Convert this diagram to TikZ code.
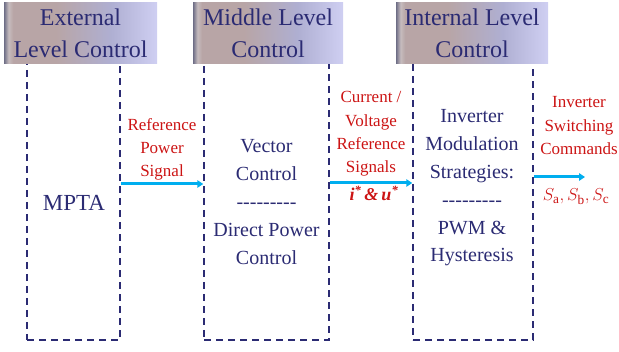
\documentclass[tikz,border=0pt]{standalone}
\usepackage{fontspec}
\IfFontExistsTF{LiberationSerif-Regular.ttf}{%
  \setmainfont{LiberationSerif}[Extension=.ttf,UprightFont=*-Regular,BoldFont=*-Bold,
    ItalicFont=*-Italic,BoldItalicFont=*-BoldItalic]}{%
  \setmainfont{Liberation Serif}}
\usepackage{xcolor}
\definecolor{NavyTxt}{HTML}{2B2B73}
\definecolor{SigRed}{HTML}{CC1414}
\definecolor{SigCyan}{HTML}{00AEEF}
\definecolor{HdrDark}{HTML}{6E6E86}
\definecolor{HdrGray}{HTML}{C6BCBE}
\definecolor{HdrTan}{HTML}{B8A5A6}
\definecolor{HdrLav}{HTML}{AFAFD2}
\definecolor{HdrLight}{HTML}{CFCFF2}
\usetikzlibrary{positioning,calc,arrows.meta}
\pgfdeclarehorizontalshading{hdrshade}{100bp}{color(0bp)=(HdrDark);color(25bp)=(HdrDark);color(26.5bp)=(HdrGray);color(28bp)=(HdrTan);color(42bp)=(HdrTan);color(60bp)=(HdrLav);color(75bp)=(HdrLight);color(100bp)=(HdrLight)}
\newcommand{\dashrow}{-{}-{}-{}-{}-{}-{}-{}-{}-}

\begin{document}
\begin{tikzpicture}[x=1pt,y=-1pt,
  hdr/.style={shading=hdrshade,minimum height=61,inner sep=0pt,align=center,
    text=NavyTxt,font=\fontsize{24}{32}\selectfont},
  lvlbox/.style={draw=NavyTxt,line width=1.5pt,dash pattern=on 7pt off 5pt,minimum height=300},
  bodytxt/.style={text=NavyTxt,inner sep=0pt,align=center,font=\fontsize{20}{27.8}\selectfont},
  sigtxt/.style={text=SigRed,inner sep=0pt,align=center,font=\fontsize{17}{23.2}\selectfont},
  sig/.style={draw=SigCyan,line width=3pt,-{Triangle[length=6pt,width=7.5pt]}}]
\useasboundingbox (0,0) rectangle (619,352);
\foreach \i/\xc/\w in {1/73.5/93, 2/266.5/125, 3/473/120} {
  \node[lvlbox,minimum width=\w] (b\i) at (\xc,190) {};
}
\foreach \i/\xc/\w/\lbl in {1/80.5/153/{External\\Level Control}, 2/268/150/{Middle Level\\Control}, 3/472/152/{Internal Level\\Control}} {
  \node[hdr,minimum width=\w] (h\i) at (\xc,33.5) {\lbl};
}
% level contents
\node[bodytxt,anchor=base,font=\fontsize{23}{28}\selectfont] (mpta) at (74,211) {MPTA};
\node[bodytxt,anchor=north] (vec) at (266.5,139.7) {Vector\\Control\\\dashrow\\Direct Power\\Control};
\node[bodytxt,anchor=north] (mod) at (472,109.7) {Inverter\\Modulation\\Strategies:\\\dashrow\\PWM \&\\Hysteresis};
% signals
\coordinate (s1) at (0,184);
\coordinate (s2) at (0,183);
\coordinate (cmd) at (585,177);
\draw[sig] (b1.east |- s1) -- (b2.west |- s1);
\draw[sig] (b2.east |- s2) -- (b3.west |- s2);
\draw[sig] (b3.east |- cmd) -- (cmd);
\node[sigtxt,anchor=north] (refp) at (162,118.4) {Reference\\Power\\Signal};
\node[sigtxt,anchor=north] (refs) at (371,91.4) {Current /\\Voltage\\Reference\\Signals};
\node[sigtxt,anchor=base,font=\fontsize{18}{23}\selectfont\bfseries\itshape] (iu) at (374,201) {i\textsuperscript{*}\,\&\,u\textsuperscript{*}};
\node[sigtxt,anchor=north] (swc) at (579,96.5) {Inverter\\Switching\\Commands};
\node[sigtxt,anchor=base,font=\fontsize{19}{23}\selectfont] (sabc) at (576,201) {$S_{\mathrm{a}},S_{\mathrm{b}},S_{\mathrm{c}}$};
\end{tikzpicture}
\end{document}
